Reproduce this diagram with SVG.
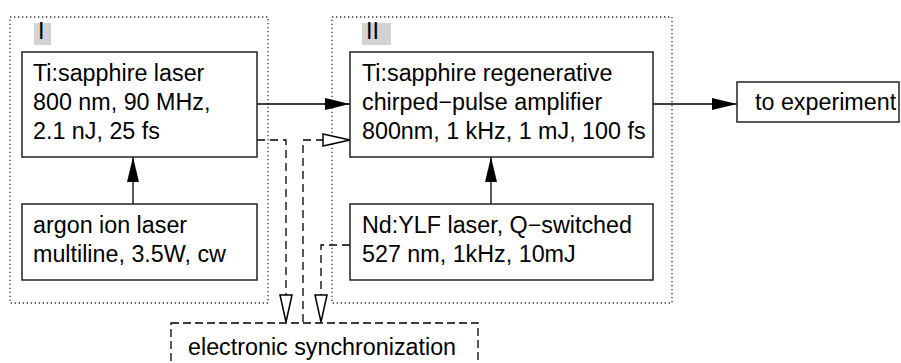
<svg xmlns="http://www.w3.org/2000/svg" width="901" height="363" viewBox="0 0 901 363">
<defs>
<style>
text{font-family:"Liberation Sans",Arial,sans-serif;font-size:23.3px;fill:#000}
.box{fill:#fff;stroke:#222;stroke-width:1.5}
.grp{fill:none;stroke:#333;stroke-width:1.3;stroke-dasharray:1.3 2.7}
.lab{fill:#d2d2d2;stroke:none}
.sync{fill:#fff;stroke:#000;stroke-width:1.3;stroke-dasharray:8 4}
.solid{fill:none;stroke:#000;stroke-width:1.3}
.dash{fill:none;stroke:#000;stroke-width:1.3;stroke-dasharray:8 5}
</style>
<marker id="fa" markerUnits="userSpaceOnUse" markerWidth="26" markerHeight="14" refX="25" refY="7" orient="auto" overflow="visible">
<path d="M0,1 L25,7 L0,13 z" fill="#000"/>
</marker>
<marker id="oa" markerUnits="userSpaceOnUse" markerWidth="30" markerHeight="16" refX="28" refY="7" orient="auto" overflow="visible">
<path d="M1,1 L28,7 L1,13 z" fill="#fff" stroke="#000" stroke-width="1.5"/>
</marker>
</defs>
<g id="groupI">
<rect class="grp" x="10" y="17" width="258" height="286"/>
<rect class="lab" x="34" y="23" width="17" height="22"/>
<text x="38" y="39">I</text>
</g>
<g id="groupII">
<rect class="grp" x="332" y="17" width="340" height="286"/>
<rect class="lab" x="362" y="23" width="29" height="22"/>
<text x="366" y="39">II</text>
</g>
<g id="connectors">
<line class="solid" x1="257" y1="104" x2="350" y2="104" marker-end="url(#fa)"/>
<line class="solid" x1="653" y1="104" x2="737" y2="104" marker-end="url(#fa)"/>
<line class="solid" x1="133" y1="204" x2="133" y2="157" marker-end="url(#fa)"/>
<line class="solid" x1="491" y1="204" x2="491" y2="157" marker-end="url(#fa)"/>
<polyline class="dash" points="257,140 286,140 286,322" marker-end="url(#oa)"/>
<polyline class="dash" points="303,322 303,140 350,140" marker-end="url(#oa)"/>
<polyline class="dash" points="350,245 321,245 321,322" marker-end="url(#oa)"/>
</g>
<g id="tisapphire">
<rect class="box" x="22" y="52" width="235" height="105"/>
<text x="33" y="81">Ti:sapphire laser</text>
<text x="33" y="110">800 nm, 90 MHz,</text>
<text x="33" y="139">2.1 nJ, 25 fs</text>
</g>
<g id="argon">
<rect class="box" x="22" y="204" width="235" height="76"/>
<text x="33" y="233">argon ion laser</text>
<text x="33" y="262">multiline, 3.5W, cw</text>
</g>
<g id="amplifier">
<rect class="box" x="350" y="52" width="303" height="105"/>
<text x="362" y="81">Ti:sapphire regenerative</text>
<text x="362" y="110">chirped−pulse amplifier</text>
<text x="362" y="139">800nm, 1 kHz, 1 mJ, 100 fs</text>
</g>
<g id="ndylf">
<rect class="box" x="350" y="204" width="303" height="76"/>
<text x="362" y="233">Nd:YLF laser, Q−switched</text>
<text x="362" y="262">527 nm, 1kHz, 10mJ</text>
</g>
<g id="experiment">
<rect class="box" x="737" y="82" width="162" height="40"/>
<text x="755" y="110">to experiment</text>
</g>
<g id="sync">
<rect class="sync" x="171" y="323" width="307" height="60"/>
<text x="188" y="355">electronic synchronization</text>
</g>
</svg>
